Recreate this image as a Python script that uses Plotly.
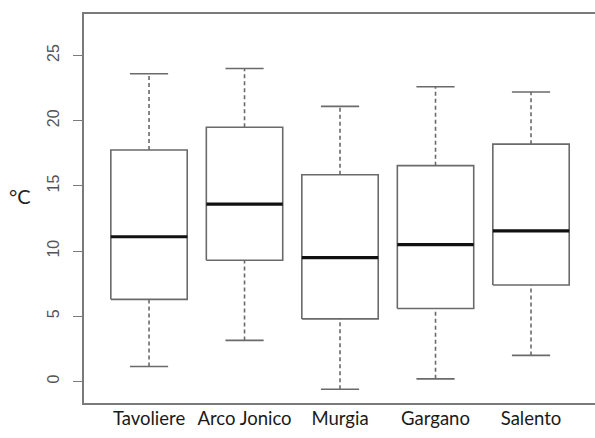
import plotly.graph_objects as go

# ---- data ----
categories = ["Tavoliere", "Arco Jonico", "Murgia", "Gargano", "Salento"]
lower_whisker = [1.15, 3.15, -0.6, 0.2, 2.0]
q1 = [6.3, 9.3, 4.8, 5.6, 7.4]
median = [11.1, 13.6, 9.5, 10.5, 11.55]
q3 = [17.75, 19.5, 15.85, 16.55, 18.2]
upper_whisker = [23.6, 24.0, 21.1, 22.6, 22.2]
y_ticks = [0, 5, 10, 15, 20, 25]

half_box = 0.4
half_cap = 0.2
line_col = "#6a6a6a"

positions = list(range(1, len(categories) + 1))

box_x, box_y = [], []
wh_x, wh_y = [], []
cap_x, cap_y = [], []
med_x, med_y = [], []
for p, lo, a, m, b, hi in zip(positions, lower_whisker, q1, median, q3, upper_whisker):
    box_x += [p - half_box, p + half_box, p + half_box, p - half_box, p - half_box, None]
    box_y += [a, a, b, b, a, None]
    wh_x += [p, p, None, p, p, None]
    wh_y += [lo, a, None, b, hi, None]
    cap_x += [p - half_cap, p + half_cap, None, p - half_cap, p + half_cap, None]
    cap_y += [lo, lo, None, hi, hi, None]
    med_x += [p - half_box, p + half_box, None]
    med_y += [m, m, None]

fig = go.Figure()
fig.add_trace(go.Scatter(x=wh_x, y=wh_y, mode="lines",
                         line=dict(color=line_col, width=1.6, dash="4px,3px"),
                         hoverinfo="skip", showlegend=False))
fig.add_trace(go.Scatter(x=cap_x, y=cap_y, mode="lines",
                         line=dict(color=line_col, width=1.6),
                         hoverinfo="skip", showlegend=False))
fig.add_trace(go.Scatter(x=box_x, y=box_y, mode="lines",
                         line=dict(color=line_col, width=1.6),
                         hoverinfo="skip", showlegend=False))
fig.add_trace(go.Scatter(x=med_x, y=med_y, mode="lines",
                         line=dict(color="#111111", width=3.2),
                         hoverinfo="skip", showlegend=False))

fig.update_layout(
    width=595, height=438,
    margin=dict(l=84, r=0, t=14, b=35),
    paper_bgcolor="white", plot_bgcolor="white",
    showlegend=False,
    xaxis=dict(
        range=[0.319, 5.67],
        tickmode="array", tickvals=positions, ticktext=categories,
        showgrid=False, zeroline=False,
        showline=True, mirror=True, linecolor="#7a7a7a", linewidth=1.6,
        ticks="", ticklabelstandoff=-2,
        tickfont=dict(family="Lato, sans-serif", size=18.5, color="#1a1a1a"),
    ),
    yaxis=dict(
        range=[-1.65, 28.18],
        tickmode="array", tickvals=y_ticks,
        showgrid=False, zeroline=False,
        showline=True, linecolor="#7a7a7a", linewidth=1.6,
        ticks="outside", ticklen=9, tickcolor="#7a7a7a", tickwidth=1.4,
        tickangle=-90, ticklabelstandoff=8,
        tickfont=dict(family="Liberation Sans, Arial, sans-serif", size=16, color="#555555"),
    ),
    annotations=[dict(
        text="°C", xref="paper", x=0, xshift=-64, yref="y", y=14.2,
        showarrow=False, xanchor="center", yanchor="middle",
        font=dict(family="Lato, sans-serif", size=20, color="#222222"),
    )],
)

fig.write_html("out.html", config={"displayModeBar": False},
               post_script="document.body.style.margin='0';")
